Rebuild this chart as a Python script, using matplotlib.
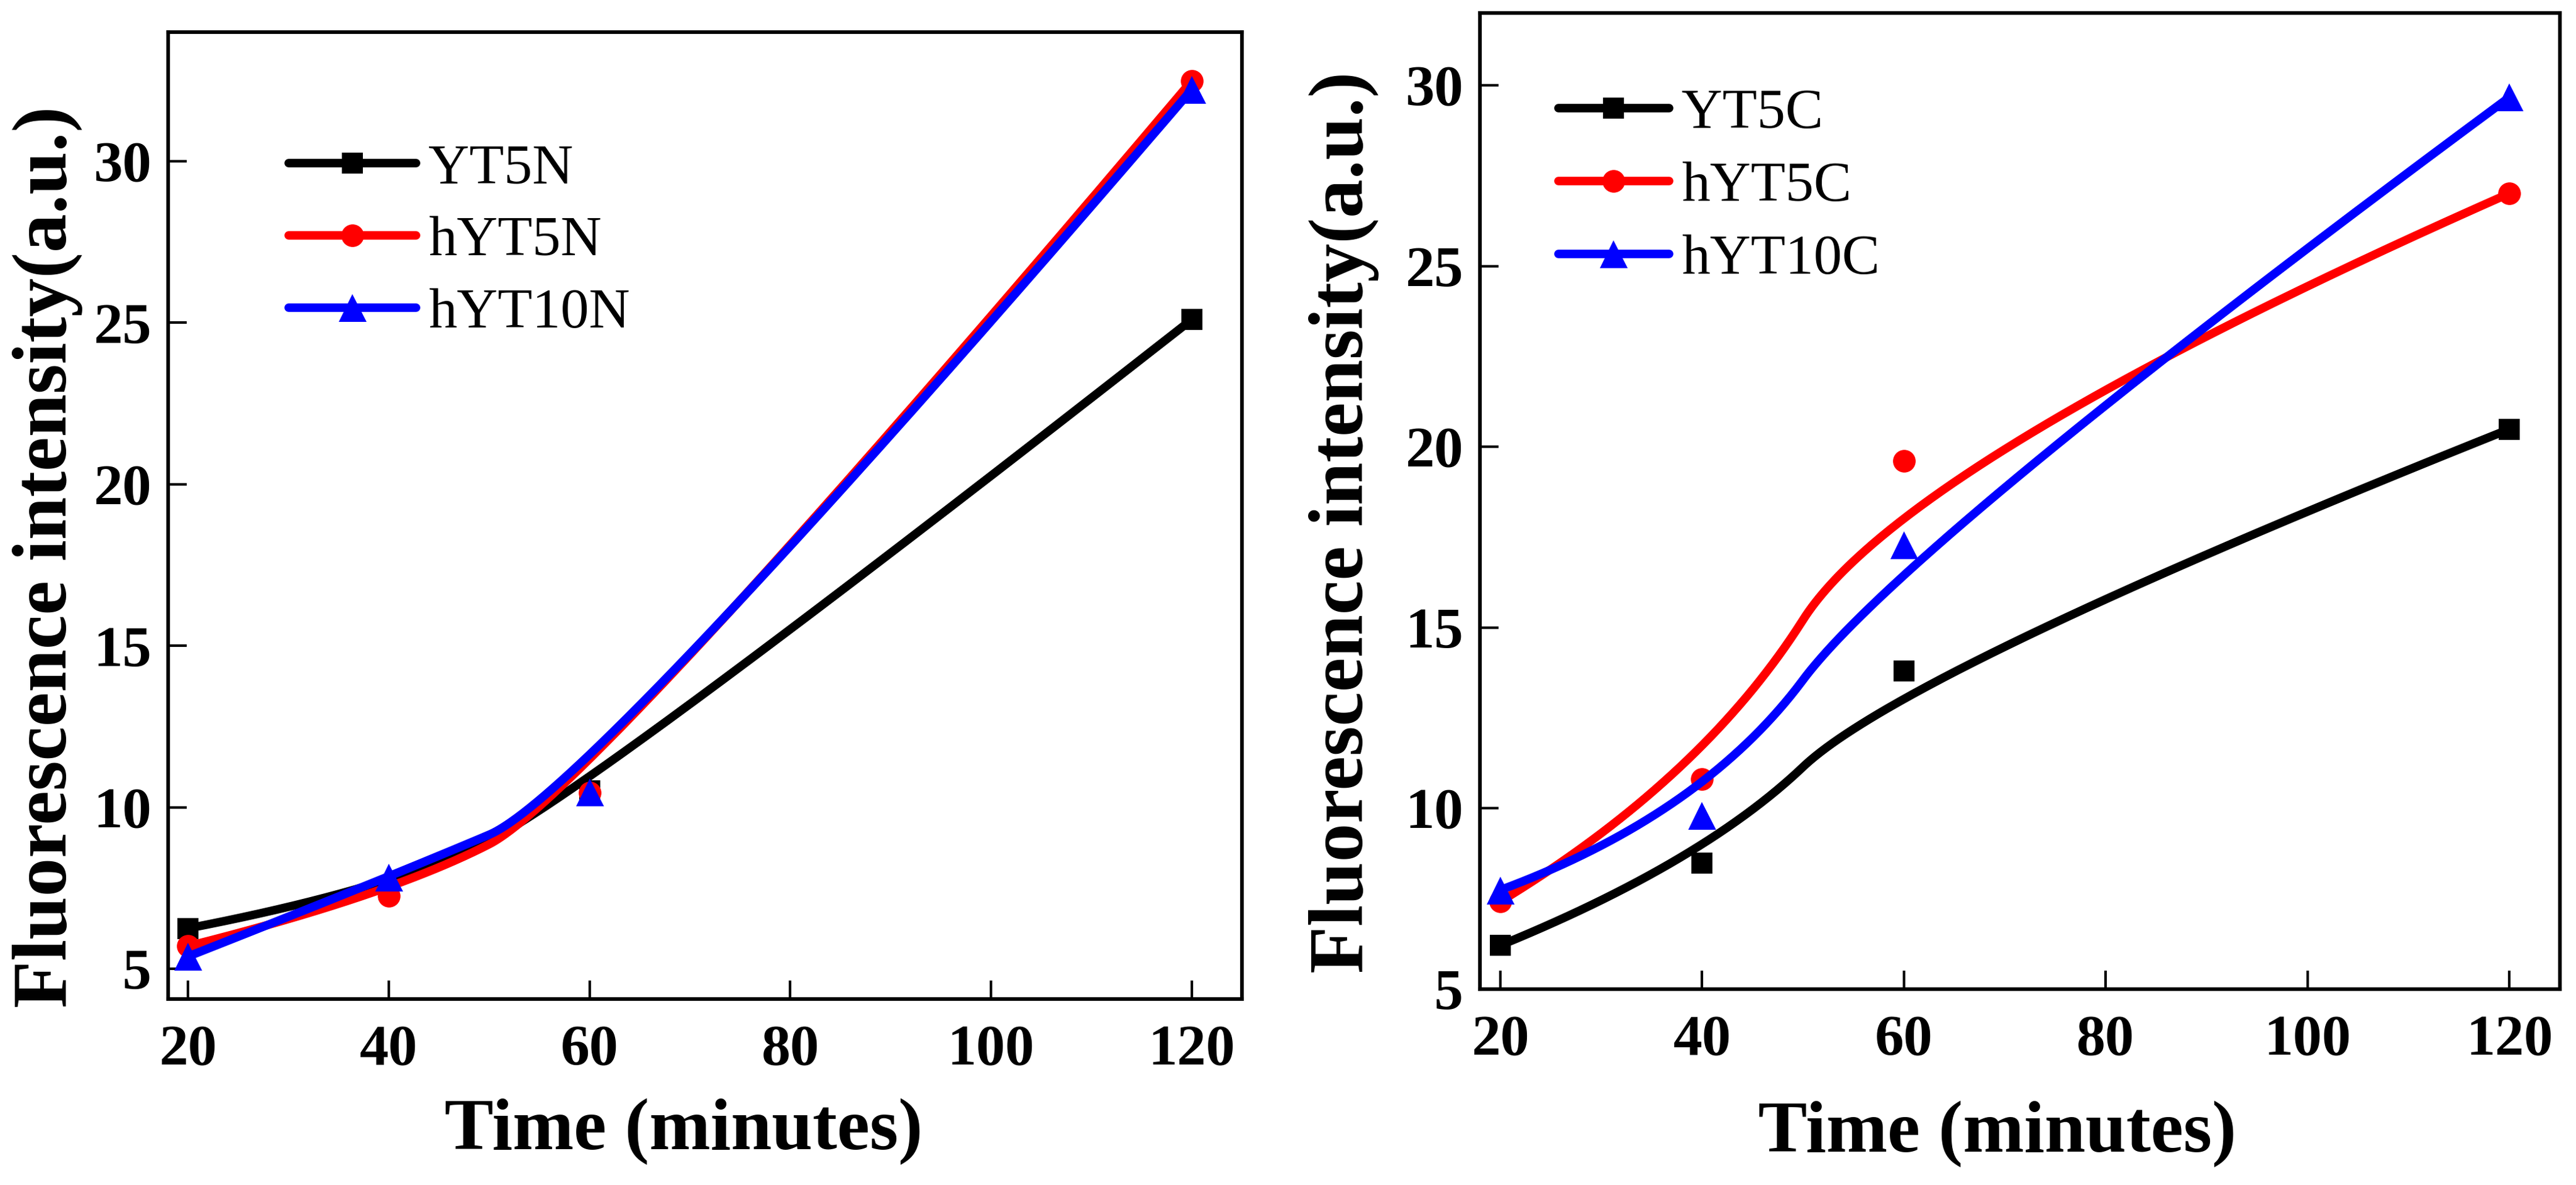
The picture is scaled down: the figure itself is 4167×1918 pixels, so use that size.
import numpy as np
import matplotlib
matplotlib.use("Agg")
import matplotlib.pyplot as plt
from matplotlib.lines import Line2D

plt.rcParams['font.family'] = ['Liberation Serif', 'DejaVu Serif']

# ---------------- data ----------------
time_min = [20, 40, 60, 120]

# left panel (N)
YT5N = [6.25, 7.45, 10.5, 25.1]
hYT5N = [5.7, 7.26, 10.45, 32.49]
hYT10N = [5.38, 7.83, 10.47, 32.22]

# right panel (C)
YT5C = [6.21, 8.49, 13.8, 20.49]
hYT5C = [7.42, 10.81, 19.61, 27.01]
hYT10C = [7.74, 9.81, 17.29, 29.67]

left_labels = ["YT5N", "hYT5N", "hYT10N"]
right_labels = ["YT5C", "hYT5C", "hYT10C"]
colors = ["#000000", "#ff0000", "#0000ff"]
markers = ["s", "o", "^"]
msizes = [8.0, 8.8, 10.8]

x_ticks = [20, 40, 60, 80, 100, 120]
y_ticks = [5, 10, 15, 20, 25, 30]


def bspline2(xs, ys, n=150):
    """Clamped quadratic B-spline using the data points as control points
    (Origin-style 'B-Spline' line connection)."""
    P = np.column_stack([xs, ys]).astype(float)
    k = len(P)
    segs = []
    for i in range(k - 2):
        a = P[i] if i == 0 else (P[i] + P[i + 1]) / 2
        b = P[i + 1]
        c = P[i + 2] if i == k - 3 else (P[i + 1] + P[i + 2]) / 2
        segs.append((a, b, c))
    t = np.linspace(0, 1, n)[:, None]
    pts = [((1 - t) ** 2) * a + 2 * t * (1 - t) * b + (t ** 2) * c for a, b, c in segs]
    pts = np.vstack(pts)
    return pts[:, 0], pts[:, 1]


W, H = 4167, 1918
dpi = 300
fig = plt.figure(figsize=(W / dpi, H / dpi), dpi=dpi)

axL = fig.add_axes([272 / W, 1 - 1617 / H, (2009 - 272) / W, (1617 - 52) / H])
axR = fig.add_axes([2394 / W, 1 - 1601 / H, (4141 - 2394) / W, (1601 - 21) / H])

LW = 3.3


def draw(ax, series, labels, ylim, leg_anchor, handlelength, labelspacing,
         ylab_xy, xlab_xy):
    handles = []
    for ys, lab, c, m, ms in zip(series, labels, colors, markers, msizes):
        cx, cy = bspline2(time_min, ys)
        ax.plot(cx, cy, color=c, lw=LW, solid_capstyle='round',
                solid_joinstyle='round')
        ax.plot(time_min, ys, linestyle='none', marker=m, ms=ms, color=c,
                markeredgewidth=0)
        handles.append(Line2D([], [], color=c, lw=LW, marker=m, ms=ms,
                              markeredgewidth=0, solid_capstyle='round', label=lab))
    ax.set_xlim(18, 125)
    ax.set_ylim(*ylim)
    ax.set_xticks(x_ticks)
    ax.set_yticks(y_ticks)
    ax.tick_params(direction='in', length=7.3, width=1.0, top=False, right=False,
                   labelsize=22.5)
    ax.tick_params(axis='x', pad=10.0)
    ax.tick_params(axis='y', pad=6.5)
    for lab in ax.get_xticklabels() + ax.get_yticklabels():
        lab.set_fontweight('bold')
    for sp in ax.spines.values():
        sp.set_linewidth(1.4)
    ax.set_ylabel("Fluorescence intensity(a.u.)", fontsize=30, fontweight='bold',
                  va='center', ha='center')
    ax.yaxis.set_label_coords(*ylab_xy)
    ax.set_xlabel("Time (minutes)", fontsize=28.5, fontweight='bold', va='center')
    ax.xaxis.set_label_coords(*xlab_xy)
    ax.legend(handles=handles, loc='upper left', bbox_to_anchor=leg_anchor,
              frameon=False, fontsize=22, handlelength=handlelength,
              handletextpad=0.22, labelspacing=labelspacing, borderpad=0,
              borderaxespad=0, numpoints=1)


draw(axL, [YT5N, hYT5N, hYT10N], left_labels, (4.06, 34.0), (0.112, 0.885),
     2.25, 0.37, (-0.112, 0.457), (0.480, -0.137))
draw(axR, [YT5C, hYT5C, hYT10C], right_labels, (5.0, 32.0), (0.0727, 0.923),
     1.95, 0.38, (-0.126, 0.478), (0.479, -0.148))

fig.savefig("out.png", dpi=dpi, facecolor='white')
